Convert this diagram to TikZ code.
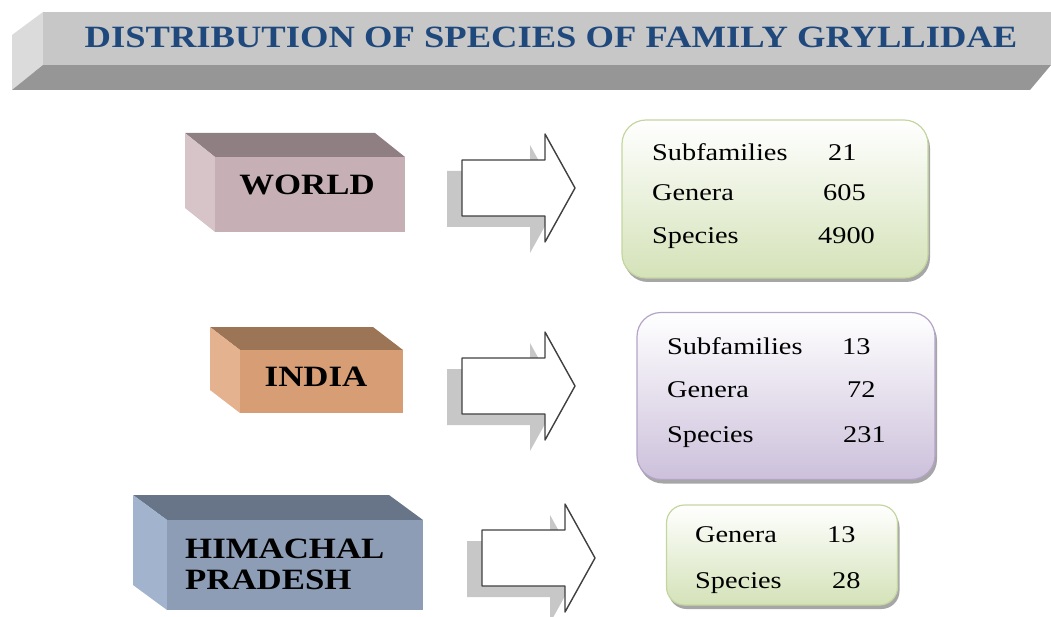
\documentclass[tikz,border=0pt]{standalone}
\usepackage{fontspec}
\setmainfont[FakeStretch=1.18]{Liberation Serif}
\usetikzlibrary{shadows}

\definecolor{titleblue}{RGB}{31,73,125}
\definecolor{worldfront}{RGB}{198,176,181}
\definecolor{worldtop}{RGB}{143,127,131}
\definecolor{worldside}{RGB}{214,196,200}
\definecolor{indiafront}{RGB}{215,158,118}
\definecolor{indiatop}{RGB}{156,116,86}
\definecolor{indiaside}{RGB}{228,178,142}
\definecolor{hpfront}{RGB}{141,157,181}
\definecolor{hptop}{RGB}{104,117,137}
\definecolor{hpside}{RGB}{162,180,205}
\definecolor{greenbot}{RGB}{212,226,184}
\definecolor{greenline}{RGB}{196,214,160}
\definecolor{lilacbot}{RGB}{204,192,219}
\definecolor{lilacline}{RGB}{180,164,200}

\tikzset{
  titletext/.style={font=\fontsize{31}{34}\selectfont\bfseries, text=titleblue, inner sep=0},
  placetext/.style={font=\fontsize{29.5}{32}\selectfont\bfseries, inner sep=0},
  cell/.style={font=\fontsize{24}{28}\selectfont, inner sep=0, anchor=base west},
  resbox/.style 2 args={draw=#2, line width=1.2pt, top color=white, bottom color=#1,
    rounded corners=24pt, inner sep=0,
    drop shadow={shadow xshift=2pt, shadow yshift=-4pt, opacity=.35, fill=black}},
  fatarrow/.pic={
    \fill[black!22] (-15,11) ++(0,-28) -- ++(83,0) -- ++(0,-26) -- ++(30,54)
      -- ++(-30,54) -- ++(0,-26) -- ++(-83,0) -- cycle;
    \draw[fill=white, draw=black!75, line width=1.4pt, line join=round]
      (0,-28) -- (83,-28) -- (83,-54) -- (113,0) -- (83,54) -- (83,28) -- (0,28) -- cycle;
  }
}

\begin{document}
\begin{tikzpicture}[x=1pt, y=-1pt]
	\useasboundingbox (0,0) rectangle (1051,617);

	% title bar
	\fill[black!14] (43,12) -- (12,35) -- (12,90) -- (43,65) -- cycle;
	\fill[black!41] (43,65) -- (1051,65) -- (1030,90) -- (12,90) -- cycle;
	\fill[black!22] (43,12) rectangle (1051,65);
	\node[titletext, anchor=base] (title) at (551,48) {DISTRIBUTION OF SPECIES OF FAMILY GRYLLIDAE};

	% world
	\fill[worldtop] (185,133) -- (375,133) -- (405,157) -- (215,157) -- cycle;
	\fill[worldside] (185,133) -- (215,157) -- (215,232) -- (185,208) -- cycle;
	\fill[worldfront] (215,157) rectangle (405,232);
	\node[placetext, anchor=base] (world) at (307,195) {WORLD};

	% india
	\fill[indiatop] (210,327) -- (373,327) -- (403,350) -- (240,350) -- cycle;
	\fill[indiaside] (210,327) -- (240,350) -- (240,413) -- (210,390) -- cycle;
	\fill[indiafront] (240,350) rectangle (403,413);
	\node[placetext, anchor=base] (india) at (316,386) {INDIA};

	% himachal pradesh
	\fill[hptop] (133,495) -- (389,495) -- (423,520) -- (167,520) -- cycle;
	\fill[hpside] (133,495) -- (167,520) -- (167,610) -- (133,585) -- cycle;
	\fill[hpfront] (167,520) rectangle (423,610);
	\node[placetext, anchor=base west] (hp1) at (185,558) {HIMACHAL};
	\node[placetext, anchor=base west] (hp2) at (185,589) {PRADESH};

	% arrows
	\pic (arr1) at (462,188) {fatarrow};
	\pic (arr2) at (462,386) {fatarrow};
	\pic (arr3) at (482,558) {fatarrow};

	% result boxes
	\node[resbox={greenbot}{greenline}, minimum width=306, minimum height=158] (wbox) at (775,199) {};
	\node[cell] (wsub) at (652,161) {Subfamilies};
	\node[cell] (wsubn) at (828,161) {21};
	\node[cell] (wgen) at (652,201) {Genera};
	\node[cell] (wgenn) at (823,201) {605};
	\node[cell] (wspe) at (652,244) {Species};
	\node[cell] (wspen) at (818,244) {4900};

	\node[resbox={lilacbot}{lilacline}, minimum width=298, minimum height=167] (ibox) at (786,396) {};
	\node[cell] (isub) at (667,354) {Subfamilies};
	\node[cell] (isubn) at (842,354) {13};
	\node[cell] (igen) at (667,397) {Genera};
	\node[cell] (igenn) at (847,397) {72};
	\node[cell] (ispe) at (667,442) {Species};
	\node[cell] (ispen) at (843,442) {231};

	\node[resbox={greenbot}{greenline}, rounded corners=18pt, minimum width=231, minimum height=100] (hbox) at (782,555) {};
	\node[cell] (hgen) at (695,542) {Genera};
	\node[cell] (hgenn) at (827,542) {13};
	\node[cell] (hspe) at (695,588) {Species};
	\node[cell] (hspen) at (832,588) {28};
\end{tikzpicture}
\end{document}
